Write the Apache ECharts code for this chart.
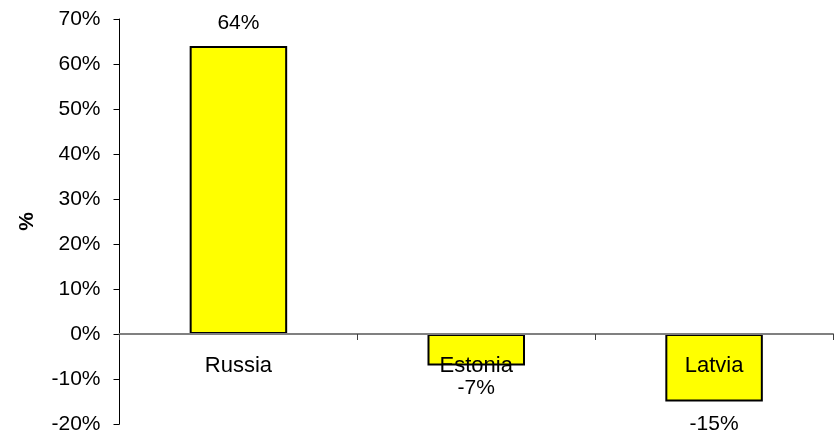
<!DOCTYPE html>
<html>
<head>
<meta charset="utf-8">
<script src="https://cdn.jsdelivr.net/npm/echarts@6/dist/echarts.min.js"></script>
<style>
  html, body { margin: 0; padding: 0; background: #fff; }
  #chart { width: 836px; height: 434px; }
</style>
</head>
<body>
<div id="chart"></div>
<script>
// Change by country, in percent
const countries = ['Russia', 'Estonia', 'Latvia'];
const changePct = [64, -7, -15];

// Value axis range and step (percent)
const yMin = -20;
const yMax = 70;
const yStep = 10;

const FONT = '"Liberation Sans", Arial, sans-serif';

const chart = echarts.init(document.getElementById('chart'), null, { renderer: 'canvas' });

chart.setOption({
  animation: false,
  backgroundColor: '#ffffff',
  grid: { left: 119.5, right: 3, top: 19, bottom: 10, containLabel: false, outerBoundsMode: 'none' },
  xAxis: {
    type: 'category',
    data: countries,
    boundaryGap: true,
    axisLine: { onZero: true, lineStyle: { color: '#808080', width: 2 } },
    axisTick: { show: true, length: 6, inside: false, lineStyle: { color: '#404040', width: 1 } },
    axisLabel: { show: false },
    splitLine: { show: false },
    z: 5
  },
  yAxis: {
    type: 'value',
    min: yMin,
    max: yMax,
    interval: yStep,
    name: '%',
    nameLocation: 'middle',
    nameRotate: 90,
    nameGap: 82,
    nameTextStyle: { color: '#000', fontFamily: FONT, fontSize: 21, fontWeight: 'bold' },
    axisLine: { show: true, lineStyle: { color: '#000', width: 1 } },
    axisTick: { show: true, length: 6, lineStyle: { color: '#000', width: 1 } },
    axisLabel: {
      color: '#000', fontFamily: FONT, fontSize: 21, margin: 19,
      formatter: v => v + '%'
    },
    splitLine: { show: false }
  },
  series: [
    {
      type: 'bar',
      data: changePct.map(v => v < 0
        ? { value: v, label: { position: 'bottom' } }
        : { value: v }),
      barWidth: '41%',
      itemStyle: { color: '#ffff00', borderColor: '#000', borderWidth: 2 },
      label: {
        show: true,
        fontFamily: FONT,
        fontSize: 21,
        color: '#000',
        distance: 12,
        position: 'top',
        formatter: p => p.value + '%'
      },
      z: 2
    },
    {
      // Country names hang just below the zero line, over the bars
      type: 'bar',
      data: countries.map(() => 0),
      barWidth: '41%',
      barGap: '-100%',
      silent: true,
      itemStyle: { color: 'transparent', borderWidth: 0 },
      label: {
        show: true,
        position: 'bottom',
        distance: 21,
        fontFamily: FONT,
        fontSize: 22,
        color: '#000',
        formatter: p => p.name
      },
      z: 6
    }
  ]
});
</script>
</body>
</html>
